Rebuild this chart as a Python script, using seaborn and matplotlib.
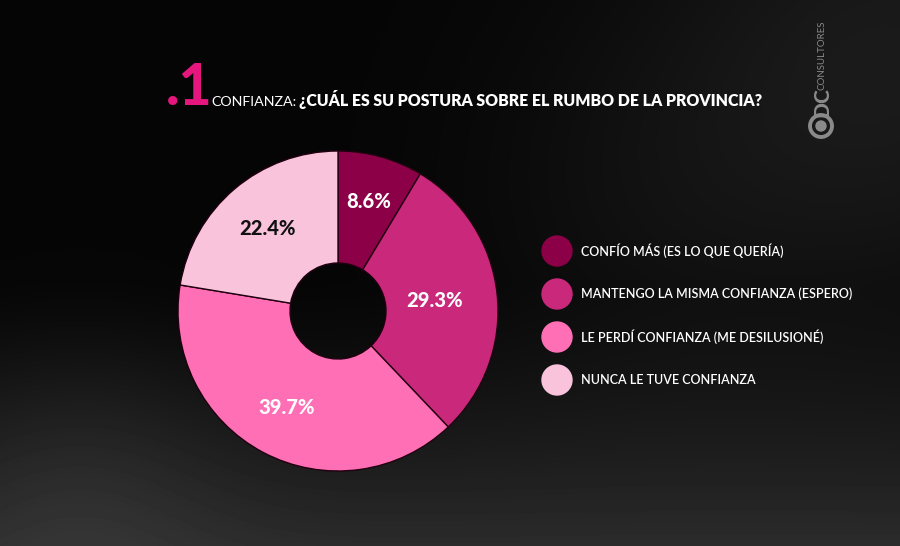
import numpy as np
import matplotlib.pyplot as plt
import seaborn as sns
from matplotlib.patches import Circle

# datos
categories = ["CONFÍO MÁS (ES LO QUE QUERÍA)",
              "MANTENGO LA MISMA CONFIANZA (ESPERO)",
              "LE PERDÍ CONFIANZA (ME DESILUSIONÉ)",
              "NUNCA LE TUVE CONFIANZA"]
values = [8.6, 29.3, 39.7, 22.4]
colors = ["#8c0047", "#c9287b", "#ff6fb5", "#f9c3dc"]
label_colors = ["white", "white", "white", "#111111"]
label_dist = [0.71, 0.61, 0.68, 0.68]

sns.set_theme(style="dark")
plt.rcParams['font.family'] = ['Lato', 'DejaVu Sans']

fig = plt.figure(figsize=(9, 5.46), dpi=100)

# fondo oscuro con humo
bg = fig.add_axes([0, 0, 1, 1])
bg.set_xlim(0, 900)
bg.set_ylim(546, 0)
bg.axis('off')
yy, xx = np.mgrid[0:546, 0:900]
smoke = 0.15 * np.clip((yy - 280) / 266, 0, 1) ** 1.3
smoke += 0.05 * np.exp(-((xx - 80) ** 2 + (yy - 480) ** 2) / 2e4)
smoke += 0.08 * np.exp(-((xx - 900) ** 2 + (yy - 60) ** 2) / 6e4)
smoke += 0.03 * np.exp(-((xx - 650) ** 2 + (yy - 200) ** 2) / 4e4)
img = 0.02 + smoke
bg.imshow(img, cmap='gray', vmin=0, vmax=1, extent=(0, 900, 546, 0),
          aspect='auto', zorder=0)

# titulo
bg.text(166, 105, ".1", color="#e5177e", fontsize=41, fontweight='black',
        va='baseline', ha='left')
bg.text(211, 106, "CONFIANZA:", color="white", fontsize=10.3,
        fontweight='normal', va='baseline')
bg.text(299, 106, "¿CUÁL ES SU POSTURA SOBRE EL RUMBO DE LA PROVINCIA?",
        color="white", fontsize=11.4, fontweight='heavy', va='baseline')

# logo
bg.text(822, 102, "DC", color="#8a8a8a", fontsize=15, fontweight='black',
        rotation=90, ha='center', va='center')
bg.text(822, 55, "CONSULTORES", color="#8a8a8a", fontsize=7,
        rotation=90, ha='center', va='center')
bg.add_patch(Circle((821, 126), 11, facecolor='none', edgecolor="#8a8a8a", linewidth=2.8))
bg.add_patch(Circle((821, 126), 5, color="#8a8a8a"))

# dona
ax = fig.add_axes([178 / 900, 75 / 546, 320 / 900, 320 / 546])
wedges, texts, autotexts = ax.pie(
    values, colors=colors, startangle=90, counterclock=False, radius=1,
    autopct='%.1f%%', pctdistance=0.68,
    wedgeprops=dict(width=0.7, edgecolor='#220010', linewidth=1),
    textprops=dict(fontsize=14.5, fontweight='black'))
for w, t, c, d in zip(wedges, autotexts, label_colors, label_dist):
    ang = np.deg2rad((w.theta1 + w.theta2) / 2)
    t.set_position((d * np.cos(ang), d * np.sin(ang)))
    t.set_color(c)
ax.set_xlim(-1, 1)
ax.set_ylim(-1, 1)
ax.axis('off')

# leyenda
for i, (lab, c) in enumerate(zip(categories, colors)):
    y = 251 + 43 * i
    bg.add_patch(Circle((557, y), 15, color=c))
    bg.text(581, y, lab, color="white", fontsize=9, fontweight='semibold',
            va='center', ha='left')

fig.savefig("out.png", dpi=100, facecolor="black")
